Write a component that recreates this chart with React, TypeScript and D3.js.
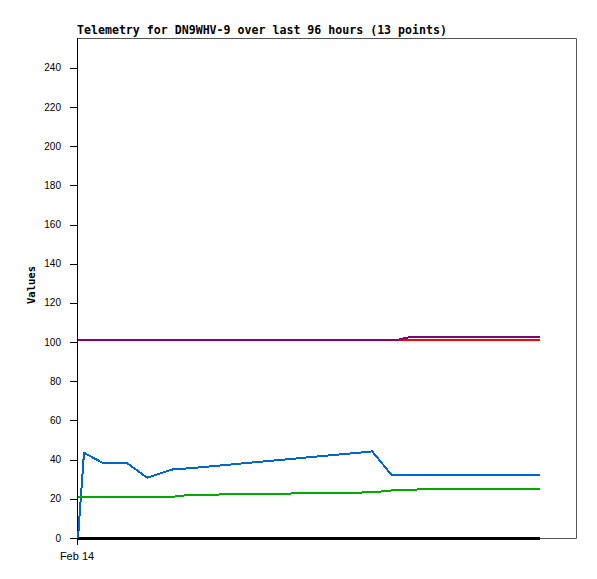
import React from "react";
import * as d3 from "d3";

const TITLE = "Telemetry for DN9WHV-9 over last 96 hours (13 points)";
const Y_LABEL = "Values";
const Y_TICKS = [0, 20, 40, 60, 80, 100, 120, 140, 160, 180, 200, 220, 240];
const X_TICK_LABELS = ["Feb 14"];

// hours since start of window (13 telemetry points)
const hours = [0, 1.15, 4.8, 9.4, 13.3, 18.3, 21.5, 56.6, 60.4, 61.6, 63.5, 67.7, 88.9];
const seriesBlack = [0, 0, 0, 0, 0, 0, 0, 0, 0, 0, 0, 0, 0];
const seriesBlue = [0, 43.5, 38.3, 38.3, 30.8, 35.1, 35.6, 44.2, 32.0, 32.0, 32.0, 32.0, 32.0];
const seriesGreen = [21.1, 21.1, 21.1, 21.1, 21.1, 21.1, 22.0, 23.3, 24.3, 24.4, 24.6, 25.0, 25.0];
const seriesRed = [101.3, 101.3, 101.3, 101.3, 101.3, 101.3, 101.3, 101.3, 101.3, 101.3, 101.3, 101.3, 101.3];
const seriesPurple = [101.3, 101.3, 101.3, 101.3, 101.3, 101.3, 101.3, 101.3, 101.3, 101.3, 102.4, 102.4, 102.4];

const SERIES = [
  { values: seriesBlack, color: "#000000", width: 3 },
  { values: seriesBlue, color: "#0066cc", width: 2 },
  { values: seriesGreen, color: "#00aa00", width: 2 },
  { values: seriesRed, color: "#ff0000", width: 2 },
  { values: seriesPurple, color: "#800080", width: 2 },
];

const W = 597;
const H = 579;
const LEFT = 78;
const RIGHT = 577;
const TOP = 38;
const BOTTOM = 538;

export default function App() {
  const x = d3.scaleLinear().domain([0, 96]).range([LEFT, RIGHT]);
  const y = d3.scaleLinear().domain([0, 255.3]).range([BOTTOM, TOP]);

  return (
    <svg
      width={W}
      height={H}
      style={{ position: "absolute", left: 0, top: 0, background: "#fff" }}
    >
      <rect x={0} y={0} width={W} height={H} fill="#fff" />
      {/* frame */}
      <path
        d={`M${LEFT},${TOP + 0.5}H${RIGHT - 0.5}V${BOTTOM + 0.5}H${LEFT}`}
        fill="none"
        stroke="#555"
        strokeWidth={1}
      />
      {/* y axis */}
      <line x1={LEFT - 0.5} x2={LEFT - 0.5} y1={TOP} y2={BOTTOM + 7} stroke="#000" strokeWidth={1} />
      {Y_TICKS.map((t) => (
        <g key={t}>
          <line x1={LEFT - 8} x2={LEFT} y1={Math.round(y(t)) + 0.5} y2={Math.round(y(t)) + 0.5} stroke="#000" strokeWidth={1} />
          <text
            x={61}
            y={y(t) + 3.5}
            textAnchor="end"
            fontFamily="Liberation Sans, Arial, sans-serif"
            fontSize={10}
            fill="#000"
          >
            {t}
          </text>
        </g>
      ))}
      {X_TICK_LABELS.map((l) => (
        <text
          key={l}
          x={x(hours[0]) - 1}
          y={560}
          textAnchor="middle"
          fontFamily="Liberation Sans, Arial, sans-serif"
          fontSize={11}
          fill="#000"
        >
          {l}
        </text>
      ))}
      {/* series */}
      {SERIES.map((s, i) => {
        const line = d3
          .line<number>()
          .x((_, j) => x(hours[j]))
          .y((v) => y(v));
        return (
          <path
            key={i}
            d={line(s.values) || ""}
            fill="none"
            stroke={s.color}
            strokeWidth={s.width}
            strokeLinejoin="round"
            shapeRendering="crispEdges"
          />
        );
      })}
      <text
        x={77}
        y={34}
        fontFamily="DejaVu Sans Mono, monospace"
        fontWeight="bold"
        fontSize={11.6}
        fill="#000"
      >
        {TITLE}
      </text>
      <text
        transform={`translate(35,285) rotate(-90)`}
        textAnchor="middle"
        fontFamily="DejaVu Sans Mono, monospace"
        fontWeight="bold"
        fontSize={10.5}
        fill="#000"
      >
        {Y_LABEL}
      </text>
    </svg>
  );
}
